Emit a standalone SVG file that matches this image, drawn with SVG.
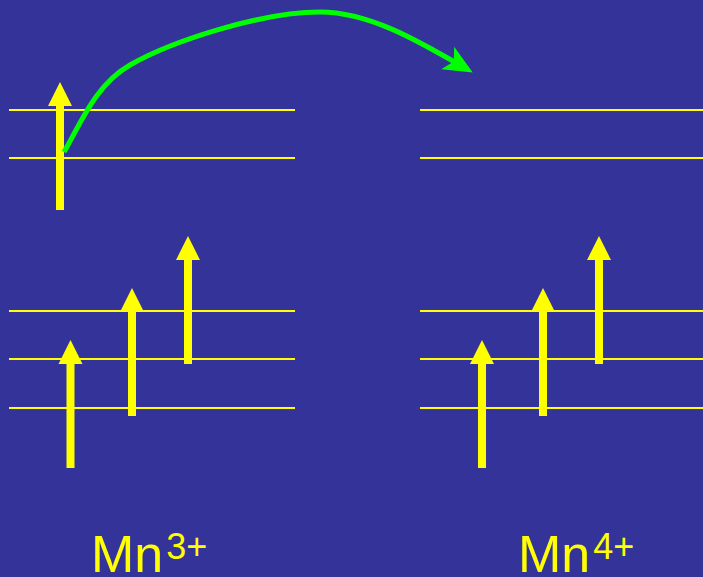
<svg xmlns="http://www.w3.org/2000/svg" width="703" height="577" viewBox="0 0 703 577">
<defs>
<style>
.lvl{stroke:#FFFF00;stroke-width:2;fill:none}
.arr{fill:#FFFF00}
.lbl{font-family:"Liberation Sans",Arial,sans-serif;font-size:52px;fill:#FFFF00}
</style>
<marker id="gh" markerUnits="userSpaceOnUse" markerWidth="40" markerHeight="40" refX="0" refY="0" viewBox="-30 -15 40 30" orient="auto" overflow="visible">
<path d="M9,0 L-20,-13 L-13,0 L-20,13 Z" fill="#00FF00"/>
</marker>
<path id="up" d="M-4,0 L-4,-104 L-12,-104 L0,-128 L12,-104 L4,-104 L4,0 Z"/>
</defs>
<rect width="703" height="577" fill="#333399"/>
<g id="levels-left">
<line class="lvl" x1="9" y1="110" x2="295" y2="110"/>
<line class="lvl" x1="9" y1="158" x2="295" y2="158"/>
<line class="lvl" x1="9" y1="311" x2="295" y2="311"/>
<line class="lvl" x1="9" y1="359" x2="295" y2="359"/>
<line class="lvl" x1="9" y1="408" x2="295" y2="408"/>
</g>
<g id="levels-right">
<line class="lvl" x1="420" y1="110" x2="703" y2="110"/>
<line class="lvl" x1="420" y1="158" x2="703" y2="158"/>
<line class="lvl" x1="420" y1="311" x2="703" y2="311"/>
<line class="lvl" x1="420" y1="359" x2="703" y2="359"/>
<line class="lvl" x1="420" y1="408" x2="703" y2="408"/>
</g>
<g id="spins-left" class="arr">
<use href="#up" x="60" y="210"/>
<use href="#up" x="70.5" y="468"/>
<use href="#up" x="132" y="416"/>
<use href="#up" x="188" y="364"/>
</g>
<g id="spins-right" class="arr">
<use href="#up" x="482" y="468"/>
<use href="#up" x="543" y="416"/>
<use href="#up" x="599" y="364"/>
</g>
<g id="connectors">
<path d="M64,152 C80,125 95,85 130,65 C170,42 260,12 320,12 C370,12 420,42 465,68" fill="none" stroke="#00FF00" stroke-width="5" marker-end="url(#gh)"/>
</g>
<g id="label-mn3">
<text class="lbl" x="91" y="572">Mn<tspan font-size="36" dx="3" dy="-13">3+</tspan></text>
</g>
<g id="label-mn4">
<text class="lbl" x="518" y="572">Mn<tspan font-size="36" dx="3" dy="-13">4+</tspan></text>
</g>
</svg>
